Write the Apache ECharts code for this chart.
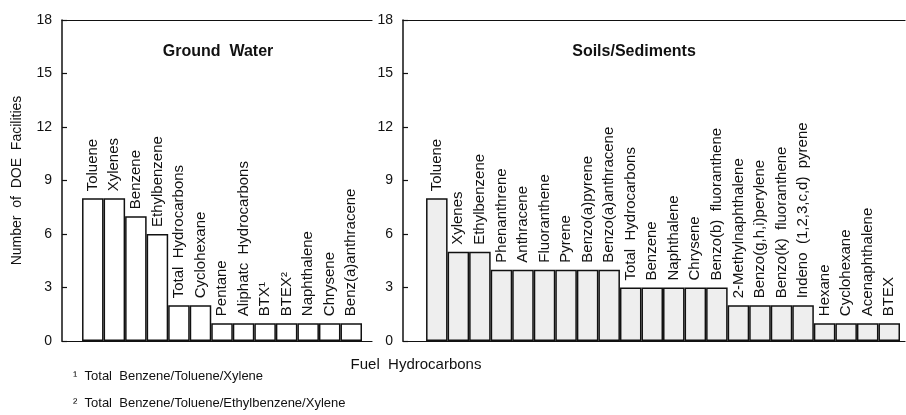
<!DOCTYPE html>
<html>
<head>
<meta charset="utf-8">
<script src="https://cdn.jsdelivr.net/npm/echarts@6/dist/echarts.min.js"></script>
<style>html,body{margin:0;padding:0;background:#fff}#c{width:906px;height:415px}</style>
</head>
<body>
<div id="c"></div>
<script>
// ---- data ----
const gwCategories = ['Toluene','Xylenes','Benzene','Ethylbenzene','Total  Hydrocarbons','Cyclohexane','Pentane','Aliphatc  Hydrocarbons','BTX\u00B9','BTEX\u00B2','Naphthalene','Chrysene','Benz(a)anthracene'];
const gwValues = [8,8,7,6,2,2,1,1,1,1,1,1,1];
const ssCategories = ['Toluene','Xylenes','Ethylbenzene','Phenanthrene','Anthracene','Fluoranthene','Pyrene','Benzo(a)pyrene','Benzo(a)anthracene','Total  Hydrocarbons','Benzene','Naphthalene','Chrysene','Benzo(b)  fluoranthene','2-Methylnaphthalene','Benzo(g,h,i)perylene','Benzo(k)  fluoranthene','Indeno  (1,2,3,c,d)  pyrene','Hexane','Cyclohexane','Acenaphthalene','BTEX'];
const ssValues = [8,5,5,4,4,4,4,4,4,3,3,3,3,3,2,2,2,2,1,1,1,1];
const yMin = 0, yMax = 18, yStep = 3;
const panelTitles = ['Ground  Water', 'Soils/Sediments'];
const yAxisName = 'Number  of  DOE  Facilities';
const xAxisName = 'Fuel  Hydrocarbons';
const footnotes = ['\u00B9  Total  Benzene/Toluene/Xylene', '\u00B2  Total  Benzene/Toluene/Ethylbenzene/Xylene'];

// ---- chart ----
const FONT = "'Liberation Sans', Arial, Helvetica, sans-serif";
const INK = '#111';
const chart = echarts.init(document.getElementById('c'), null, {renderer: 'canvas'});

function frameY(gi, withName) {
  return {
    gridIndex: gi, type: 'value', min: yMin, max: yMax, interval: yStep,
    axisLine: {show: true, lineStyle: {color: INK, width: 1.5}},
    axisTick: {show: true, inside: true, length: 5, lineStyle: {color: INK, width: 1.2}},
    axisLabel: {margin: 10, fontSize: 14, color: INK, fontFamily: FONT},
    splitLine: {show: false},
    name: withName ? yAxisName : '',
    nameLocation: 'middle', nameRotate: 90, nameGap: 38,
    nameTextStyle: {fontSize: 14, color: INK, fontFamily: FONT}
  };
}
function hiddenY(gi) {
  return {gridIndex: gi, type: 'value', min: yMin, max: yMax, show: false};
}
function frameX(gi, pos) {
  return {
    gridIndex: gi, type: 'value', min: 0, max: 1, position: pos,
    axisLine: {show: true, onZero: false, lineStyle: {color: INK, width: 1.2}},
    axisTick: {show: false}, axisLabel: {show: false}, splitLine: {show: false}
  };
}
function catX(gi, cats) {
  return {gridIndex: gi, type: 'category', data: [''].concat(cats), show: false, boundaryGap: true};
}
function barSeries(xi, yi, vals, fill) {
  return {
    type: 'bar', xAxisIndex: xi, yAxisIndex: yi,
    data: [null].concat(vals),
    barCategoryGap: '0%',
    itemStyle: {color: fill, borderColor: INK, borderWidth: 1.5},
    label: {
      show: true, position: 'top', rotate: 90, align: 'left', verticalAlign: 'middle',
      distance: 7, formatter: '{b}', fontSize: 15, color: INK, fontFamily: FONT
    },
    emphasis: {disabled: true},
    silent: true
  };
}

const option = {
  animation: false,
  backgroundColor: '#fff',
  textStyle: {fontFamily: FONT},
  grid: [
    {left: 62, top: 20, width: 310, height: 321, outerBoundsMode: 'none', containLabel: false},
    {left: 60.5, top: 20, width: 301.5, height: 321, outerBoundsMode: 'none', containLabel: false},
    {left: 403, top: 20, width: 502, height: 321, outerBoundsMode: 'none', containLabel: false},
    {left: 404.5, top: 20, width: 495.5, height: 321, outerBoundsMode: 'none', containLabel: false}
  ],
  xAxis: [
    frameX(0, 'bottom'), frameX(0, 'top'), catX(1, gwCategories),
    frameX(2, 'bottom'), frameX(2, 'top'), catX(3, ssCategories)
  ],
  yAxis: [frameY(0, true), hiddenY(1), frameY(2, false), hiddenY(3)],
  series: [
    barSeries(2, 1, gwValues, '#ffffff'),
    barSeries(5, 3, ssValues, '#eeeeee')
  ],
  graphic: [
    {type: 'text', x: 218, y: 52, silent: true, style: {text: panelTitles[0], fontSize: 16, fontWeight: 'bold', fontFamily: FONT, fill: INK, align: 'center', verticalAlign: 'middle'}},
    {type: 'text', x: 634, y: 52, silent: true, style: {text: panelTitles[1], fontSize: 16, fontWeight: 'bold', fontFamily: FONT, fill: INK, align: 'center', verticalAlign: 'middle'}},
    {type: 'text', x: 416, y: 365, silent: true, style: {text: xAxisName, fontSize: 15, fontFamily: FONT, fill: INK, align: 'center', verticalAlign: 'middle'}},
    {type: 'text', x: 73, y: 376, silent: true, style: {text: footnotes[0], fontSize: 13, fontFamily: FONT, fill: INK, align: 'left', verticalAlign: 'middle'}},
    {type: 'text', x: 73, y: 403, silent: true, style: {text: footnotes[1], fontSize: 13, fontFamily: FONT, fill: INK, align: 'left', verticalAlign: 'middle'}}
  ]
};
chart.setOption(option);
</script>
</body>
</html>
